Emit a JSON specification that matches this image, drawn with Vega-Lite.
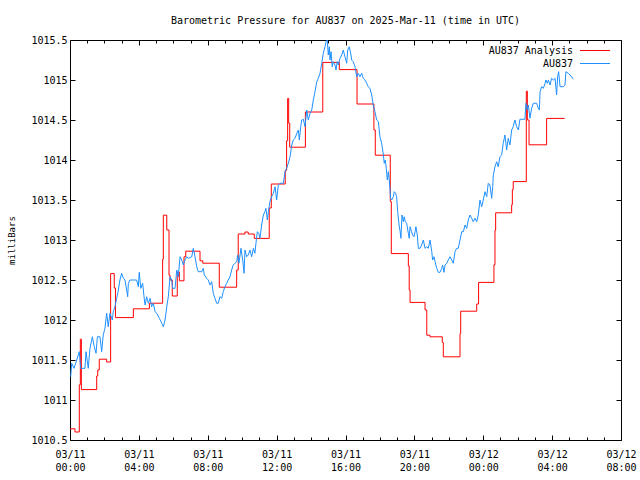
{
  "$schema": "https://vega.github.io/schema/vega-lite/v6.json",
  "autosize": {"type": "none"},
  "padding": {"left": 70, "top": 40, "right": 19, "bottom": 40},
  "width": 551,
  "height": 400,
  "background": "white",
  "title": {"text": "Barometric Pressure for AU837 on 2025-Mar-11 (time in UTC)", "font": "DejaVu Sans Mono", "fontSize": 10, "fontWeight": "normal", "color": "black", "anchor": "middle", "frame": "group", "baseline": "bottom", "offset": 15, "dy": 16},
  "datasets": {
    "analysis": [{"h":0,"v":1010.64},{"h":0.29,"v":1010.6},{"h":0.54,"v":1011.19},{"h":0.6,"v":1011.76},{"h":0.66,"v":1011.13},{"h":1.55,"v":1011.3},{"h":1.61,"v":1011.375},{"h":1.7,"v":1011.51},{"h":2.13,"v":1011.475},{"h":2.36,"v":1012.58},{"h":2.57,"v":1012.4},{"h":2.64,"v":1012.03},{"h":3.68,"v":1012.14},{"h":4.61,"v":1012.21},{"h":5.38,"v":1012.76},{"h":5.42,"v":1013.31},{"h":5.62,"v":1013.125},{"h":5.75,"v":1012.56},{"h":5.81,"v":1012.5},{"h":5.94,"v":1012.3},{"h":6.23,"v":1012.6},{"h":6.35,"v":1012.49},{"h":6.62,"v":1012.79},{"h":6.72,"v":1012.86},{"h":7.55,"v":1012.74},{"h":7.71,"v":1012.71},{"h":8.67,"v":1012.41},{"h":9.68,"v":1012.625},{"h":9.77,"v":1013.075},{"h":10.16,"v":1013.1},{"h":10.35,"v":1013.075},{"h":10.7,"v":1013.02},{"h":11.57,"v":1013.4},{"h":11.69,"v":1013.7},{"h":12.5,"v":1013.87},{"h":12.58,"v":1014.24},{"h":12.64,"v":1014.77},{"h":12.7,"v":1014.46},{"h":12.76,"v":1014.16},{"h":13.67,"v":1014.6},{"h":14.68,"v":1015.22},{"h":15.64,"v":1015.13},{"h":16.67,"v":1014.7},{"h":17.65,"v":1014.375},{"h":17.73,"v":1014.06},{"h":18.6,"v":1013.48},{"h":18.66,"v":1012.83},{"h":19.65,"v":1012.675},{"h":19.7,"v":1012.375},{"h":19.75,"v":1012.22},{"h":20.62,"v":1012.125},{"h":20.72,"v":1011.81},{"h":20.91,"v":1011.79},{"h":21.62,"v":1011.72},{"h":21.68,"v":1011.54},{"h":22.65,"v":1011.83},{"h":22.69,"v":1012.11},{"h":23.62,"v":1012.2},{"h":23.73,"v":1012.47},{"h":24.62,"v":1012.69},{"h":24.68,"v":1013.12},{"h":24.72,"v":1013.34},{"h":25.65,"v":1013.44},{"h":25.69,"v":1013.63},{"h":25.74,"v":1013.73},{"h":26.5,"v":1014.86},{"h":26.56,"v":1014.5},{"h":26.66,"v":1014.19},{"h":27.68,"v":1014.52},{"h":28.73,"v":1014.52}],
    "obs": [{"h":0.04,"v":1011.291},{"h":0.1,"v":1011.459},{"h":0.23,"v":1011.396},{"h":0.39,"v":1011.5},{"h":0.54,"v":1011.604},{"h":0.62,"v":1011.396},{"h":0.87,"v":1011.396},{"h":0.93,"v":1011.604},{"h":1.06,"v":1011.396},{"h":1.16,"v":1011.646},{"h":1.3,"v":1011.791},{"h":1.41,"v":1011.666},{"h":1.51,"v":1011.584},{"h":1.59,"v":1011.791},{"h":1.74,"v":1011.791},{"h":1.84,"v":1011.604},{"h":1.93,"v":1011.8125},{"h":2.03,"v":1011.896},{"h":2.13,"v":1012.084},{"h":2.22,"v":1011.916},{"h":2.32,"v":1012.084},{"h":2.46,"v":1012.0},{"h":2.51,"v":1012.104},{"h":2.61,"v":1012.166},{"h":2.71,"v":1012.271},{"h":2.81,"v":1012.375},{"h":2.9,"v":1012.5},{"h":3.0,"v":1012.584},{"h":3.1,"v":1012.521},{"h":3.19,"v":1012.5},{"h":3.29,"v":1012.375},{"h":3.35,"v":1012.291},{"h":3.39,"v":1012.459},{"h":3.48,"v":1012.5},{"h":3.87,"v":1012.5},{"h":3.97,"v":1012.416},{"h":4.02,"v":1012.596},{"h":4.11,"v":1012.396},{"h":4.22,"v":1012.459},{"h":4.3,"v":1012.291},{"h":4.36,"v":1012.1875},{"h":4.45,"v":1012.291},{"h":4.55,"v":1012.209},{"h":4.65,"v":1012.271},{"h":4.74,"v":1012.166},{"h":4.84,"v":1012.209},{"h":4.94,"v":1012.104},{"h":5.04,"v":1012.084},{"h":5.19,"v":1012.021},{"h":5.33,"v":1011.959},{"h":5.42,"v":1011.916},{"h":5.52,"v":1012.0},{"h":5.62,"v":1012.166},{"h":5.71,"v":1012.291},{"h":5.81,"v":1012.541},{"h":5.91,"v":1012.5},{"h":5.96,"v":1012.396},{"h":6.1,"v":1012.396},{"h":6.2,"v":1012.625},{"h":6.29,"v":1012.541},{"h":6.39,"v":1012.791},{"h":6.49,"v":1012.75},{"h":6.58,"v":1012.6875},{"h":6.68,"v":1012.75},{"h":6.78,"v":1012.791},{"h":6.87,"v":1012.771},{"h":7.07,"v":1012.791},{"h":7.16,"v":1012.896},{"h":7.26,"v":1012.791},{"h":7.36,"v":1012.666},{"h":7.45,"v":1012.604},{"h":7.65,"v":1012.604},{"h":7.74,"v":1012.646},{"h":7.8,"v":1012.5625},{"h":7.94,"v":1012.521},{"h":8.03,"v":1012.5},{"h":8.13,"v":1012.4375},{"h":8.23,"v":1012.479},{"h":8.32,"v":1012.334},{"h":8.42,"v":1012.271},{"h":8.52,"v":1012.209},{"h":8.61,"v":1012.209},{"h":8.71,"v":1012.291},{"h":8.81,"v":1012.271},{"h":8.9,"v":1012.354},{"h":9.0,"v":1012.416},{"h":9.1,"v":1012.459},{"h":9.19,"v":1012.5},{"h":9.29,"v":1012.541},{"h":9.39,"v":1012.625},{"h":9.48,"v":1012.6875},{"h":9.58,"v":1012.709},{"h":9.68,"v":1012.729},{"h":9.74,"v":1012.8125},{"h":9.81,"v":1012.709},{"h":9.93,"v":1012.896},{"h":10.03,"v":1012.75},{"h":10.11,"v":1012.584},{"h":10.16,"v":1012.875},{"h":10.26,"v":1012.791},{"h":10.35,"v":1012.8125},{"h":10.45,"v":1012.875},{"h":10.55,"v":1012.791},{"h":10.65,"v":1012.896},{"h":10.74,"v":1012.834},{"h":10.8,"v":1012.959},{"h":10.88,"v":1013.104},{"h":10.96,"v":1013.084},{"h":11.03,"v":1013.021},{"h":11.13,"v":1013.1875},{"h":11.23,"v":1013.3125},{"h":11.32,"v":1013.354},{"h":11.38,"v":1013.396},{"h":11.46,"v":1013.25},{"h":11.52,"v":1013.354},{"h":11.61,"v":1013.479},{"h":11.71,"v":1013.541},{"h":11.81,"v":1013.584},{"h":11.91,"v":1013.666},{"h":12.0,"v":1013.5},{"h":12.1,"v":1013.6875},{"h":12.2,"v":1013.709},{"h":12.39,"v":1013.709},{"h":12.49,"v":1013.854},{"h":12.58,"v":1013.896},{"h":12.68,"v":1013.959},{"h":12.78,"v":1014.041},{"h":12.88,"v":1014.1875},{"h":12.97,"v":1014.25},{"h":13.07,"v":1014.271},{"h":13.17,"v":1014.334},{"h":13.26,"v":1014.375},{"h":13.32,"v":1014.25},{"h":13.4,"v":1014.416},{"h":13.46,"v":1014.5},{"h":13.55,"v":1014.509},{"h":13.65,"v":1014.416},{"h":13.75,"v":1014.625},{"h":13.84,"v":1014.5},{"h":13.94,"v":1014.584},{"h":14.04,"v":1014.625},{"h":14.13,"v":1014.75},{"h":14.23,"v":1014.854},{"h":14.33,"v":1014.979},{"h":14.42,"v":1015.021},{"h":14.52,"v":1015.084},{"h":14.62,"v":1015.209},{"h":14.71,"v":1015.334},{"h":14.81,"v":1015.416},{"h":14.87,"v":1015.479},{"h":14.94,"v":1015.5},{"h":15.0,"v":1015.3125},{"h":15.06,"v":1015.416},{"h":15.1,"v":1015.25},{"h":15.16,"v":1015.354},{"h":15.23,"v":1015.166},{"h":15.29,"v":1015.229},{"h":15.39,"v":1015.1875},{"h":15.45,"v":1015.125},{"h":15.52,"v":1015.229},{"h":15.58,"v":1015.1875},{"h":15.68,"v":1015.271},{"h":15.78,"v":1015.3125},{"h":15.87,"v":1015.375},{"h":15.97,"v":1015.291},{"h":16.07,"v":1015.209},{"h":16.13,"v":1015.375},{"h":16.22,"v":1015.416},{"h":16.32,"v":1015.3125},{"h":16.36,"v":1015.25},{"h":16.45,"v":1015.229},{"h":16.55,"v":1015.166},{"h":16.65,"v":1015.041},{"h":16.74,"v":1015.084},{"h":16.84,"v":1015.041},{"h":16.94,"v":1015.084},{"h":17.03,"v":1015.021},{"h":17.13,"v":1015.0},{"h":17.23,"v":1014.959},{"h":17.32,"v":1014.916},{"h":17.42,"v":1014.896},{"h":17.52,"v":1014.8125},{"h":17.61,"v":1014.6875},{"h":17.71,"v":1014.604},{"h":17.81,"v":1014.5},{"h":17.91,"v":1014.479},{"h":18.0,"v":1014.291},{"h":18.1,"v":1014.209},{"h":18.2,"v":1014.0625},{"h":18.25,"v":1013.959},{"h":18.31,"v":1014.0},{"h":18.37,"v":1013.896},{"h":18.43,"v":1013.75},{"h":18.49,"v":1013.854},{"h":18.54,"v":1013.75},{"h":18.62,"v":1013.521},{"h":18.68,"v":1013.5},{"h":18.78,"v":1013.541},{"h":18.83,"v":1013.604},{"h":18.91,"v":1013.584},{"h":18.97,"v":1013.541},{"h":19.03,"v":1013.354},{"h":19.11,"v":1013.1875},{"h":19.16,"v":1013.125},{"h":19.22,"v":1013.021},{"h":19.28,"v":1013.3125},{"h":19.36,"v":1013.229},{"h":19.41,"v":1013.291},{"h":19.47,"v":1013.229},{"h":19.55,"v":1013.209},{"h":19.65,"v":1013.084},{"h":19.7,"v":1013.021},{"h":19.75,"v":1013.166},{"h":19.84,"v":1013.104},{"h":19.9,"v":1013.0625},{"h":19.98,"v":1013.041},{"h":20.04,"v":1013.104},{"h":20.09,"v":1013.166},{"h":20.17,"v":1013.0625},{"h":20.23,"v":1012.896},{"h":20.33,"v":1012.896},{"h":20.42,"v":1012.9375},{"h":20.52,"v":1013.0},{"h":20.62,"v":1012.896},{"h":20.72,"v":1012.916},{"h":20.81,"v":1012.896},{"h":20.91,"v":1013.0},{"h":21.01,"v":1012.854},{"h":21.06,"v":1012.75},{"h":21.14,"v":1012.791},{"h":21.2,"v":1012.729},{"h":21.3,"v":1012.646},{"h":21.39,"v":1012.596},{"h":21.49,"v":1012.596},{"h":21.59,"v":1012.646},{"h":21.64,"v":1012.6875},{"h":21.72,"v":1012.596},{"h":21.78,"v":1012.6875},{"h":21.88,"v":1012.709},{"h":21.97,"v":1012.75},{"h":22.07,"v":1012.791},{"h":22.17,"v":1012.75},{"h":22.26,"v":1012.709},{"h":22.36,"v":1012.854},{"h":22.46,"v":1012.896},{"h":22.55,"v":1012.896},{"h":22.65,"v":1013.0},{"h":22.75,"v":1013.104},{"h":22.85,"v":1013.104},{"h":22.94,"v":1013.1875},{"h":23.04,"v":1013.146},{"h":23.13,"v":1013.25},{"h":23.23,"v":1013.3125},{"h":23.33,"v":1013.271},{"h":23.42,"v":1013.229},{"h":23.52,"v":1013.271},{"h":23.62,"v":1013.229},{"h":23.71,"v":1013.3125},{"h":23.81,"v":1013.5},{"h":23.91,"v":1013.416},{"h":24.0,"v":1013.5},{"h":24.1,"v":1013.604},{"h":24.2,"v":1013.541},{"h":24.29,"v":1013.709},{"h":24.39,"v":1013.6875},{"h":24.49,"v":1013.521},{"h":24.55,"v":1013.666},{"h":24.58,"v":1013.804},{"h":24.68,"v":1013.916},{"h":24.78,"v":1013.979},{"h":24.87,"v":1013.916},{"h":24.97,"v":1014.041},{"h":25.07,"v":1014.0625},{"h":25.16,"v":1014.209},{"h":25.26,"v":1014.3125},{"h":25.36,"v":1014.125},{"h":25.45,"v":1014.271},{"h":25.55,"v":1014.1875},{"h":25.65,"v":1014.375},{"h":25.74,"v":1014.416},{"h":25.84,"v":1014.5},{"h":25.94,"v":1014.416},{"h":26.04,"v":1014.375},{"h":26.13,"v":1014.509},{"h":26.42,"v":1014.509},{"h":26.48,"v":1014.709},{"h":26.56,"v":1014.625},{"h":26.62,"v":1014.6875},{"h":26.71,"v":1014.521},{"h":26.81,"v":1014.646},{"h":26.91,"v":1014.709},{"h":27.1,"v":1014.709},{"h":27.2,"v":1014.646},{"h":27.26,"v":1014.625},{"h":27.3,"v":1014.854},{"h":27.39,"v":1014.916},{"h":27.49,"v":1014.896},{"h":27.59,"v":1014.959},{"h":27.64,"v":1015.0},{"h":27.72,"v":1014.959},{"h":27.78,"v":1015.0},{"h":27.88,"v":1014.9375},{"h":27.97,"v":1015.021},{"h":28.07,"v":1015.0},{"h":28.17,"v":1015.021},{"h":28.26,"v":1014.8125},{"h":28.32,"v":1015.041},{"h":28.38,"v":1015.104},{"h":28.46,"v":1014.916},{"h":28.65,"v":1014.916},{"h":28.75,"v":1014.9375},{"h":28.8,"v":1015.104},{"h":28.94,"v":1015.084},{"h":29.04,"v":1015.0625},{"h":29.13,"v":1015.041},{"h":29.23,"v":1015.009}]
  },
  "layer": [
    {
      "data": {"name": "analysis"},
      "mark": {"type": "line", "interpolate": "step-after", "strokeWidth": 1, "clip": true},
      "encoding": {
        "x": {"field": "h", "type": "quantitative", "scale": {"domain": [0, 32], "nice": false, "zero": false},
          "axis": {"orient": "bottom", "title": null, "grid": false, "domain": false,
            "values": [0,1,2,3,4,5,6,7,8,9,10,11,12,13,14,15,16,17,18,19,20,21,22,23,24,25,26,27,28,29,30,31,32],
            "tickSize": {"condition": {"test": "datum.value % 4 === 0", "value": -5}, "value": -3},
            "tickColor": "black",
            "labelExpr": "datum.value % 4 === 0 ? ['03/' + (datum.value < 24 ? '11' : '12'), (datum.value % 24 < 10 ? '0' : '') + (datum.value % 24) + ':00'] : ''",
            "labelFont": "DejaVu Sans Mono", "labelFontSize": 10, "labelColor": "black",
            "labelPadding": 14, "labelLineHeight": 13, "labelFlush": false, "labelOverlap": false, "labelBound": false}},
        "y": {"field": "v", "type": "quantitative", "scale": {"domain": [1010.5, 1015.5], "nice": false, "zero": false},
          "axis": {"orient": "left", "grid": false, "domain": false,
            "values": [1010.5,1011,1011.5,1012,1012.5,1013,1013.5,1014,1014.5,1015,1015.5],
            "tickSize": -5, "tickColor": "black",
            "labelExpr": "'' + datum.value",
            "labelFont": "DejaVu Sans Mono", "labelFontSize": 10, "labelColor": "black",
            "labelPadding": 8, "labelOverlap": false, "labelBound": false, "labelFlush": false,
            "title": "milliBars", "titleFont": "DejaVu Sans Mono", "titleFontSize": 9, "titleFontWeight": "normal", "titleColor": "black",
            "titleX": -59, "titleY": 200, "titleAlign": "center", "titleBaseline": "middle", "titleAngle": -90}},
        "color": {"datum": "AU837 Analysis", "type": "nominal",
          "scale": {"domain": ["AU837 Analysis", "AU837"], "range": ["#ff0000", "#1e90ff"]},
          "legend": {"orient": "none", "legendX": 519.5, "legendY": 5, "title": null, "padding": 0,
            "symbolType": "M-3,0H3", "symbolSize": 100, "symbolStrokeWidth": 1, "symbolFillColor": "transparent",
            "labelAlign": "right", "labelOffset": -27.5, "labelFont": "DejaVu Sans Mono", "labelFontSize": 10, "labelColor": "black",
            "rowPadding": 2}}
      }
    },
    {
      "data": {"name": "obs"},
      "mark": {"type": "line", "strokeWidth": 1, "clip": true},
      "encoding": {
        "x": {"field": "h", "type": "quantitative",
          "axis": {"orient": "top", "title": null, "grid": false, "domain": false, "labels": false,
            "values": [0,1,2,3,4,5,6,7,8,9,10,11,12,13,14,15,16,17,18,19,20,21,22,23,24,25,26,27,28,29,30,31,32],
            "tickSize": {"condition": {"test": "datum.value % 4 === 0", "value": -5}, "value": -3},
            "tickColor": "black"}},
        "y": {"field": "v", "type": "quantitative",
          "axis": {"orient": "right", "title": null, "grid": false, "domain": false, "labels": false,
            "values": [1010.5,1011,1011.5,1012,1012.5,1013,1013.5,1014,1014.5,1015,1015.5],
            "tickSize": -5, "tickColor": "black"}},
        "color": {"datum": "AU837", "type": "nominal"}
      }
    }
  ],
  "resolve": {"axis": {"x": "independent", "y": "independent"}},
  "config": {
    "font": "DejaVu Sans Mono",
    "view": {"stroke": "black", "strokeWidth": 1},
    "axis": {"grid": false}
  }
}
